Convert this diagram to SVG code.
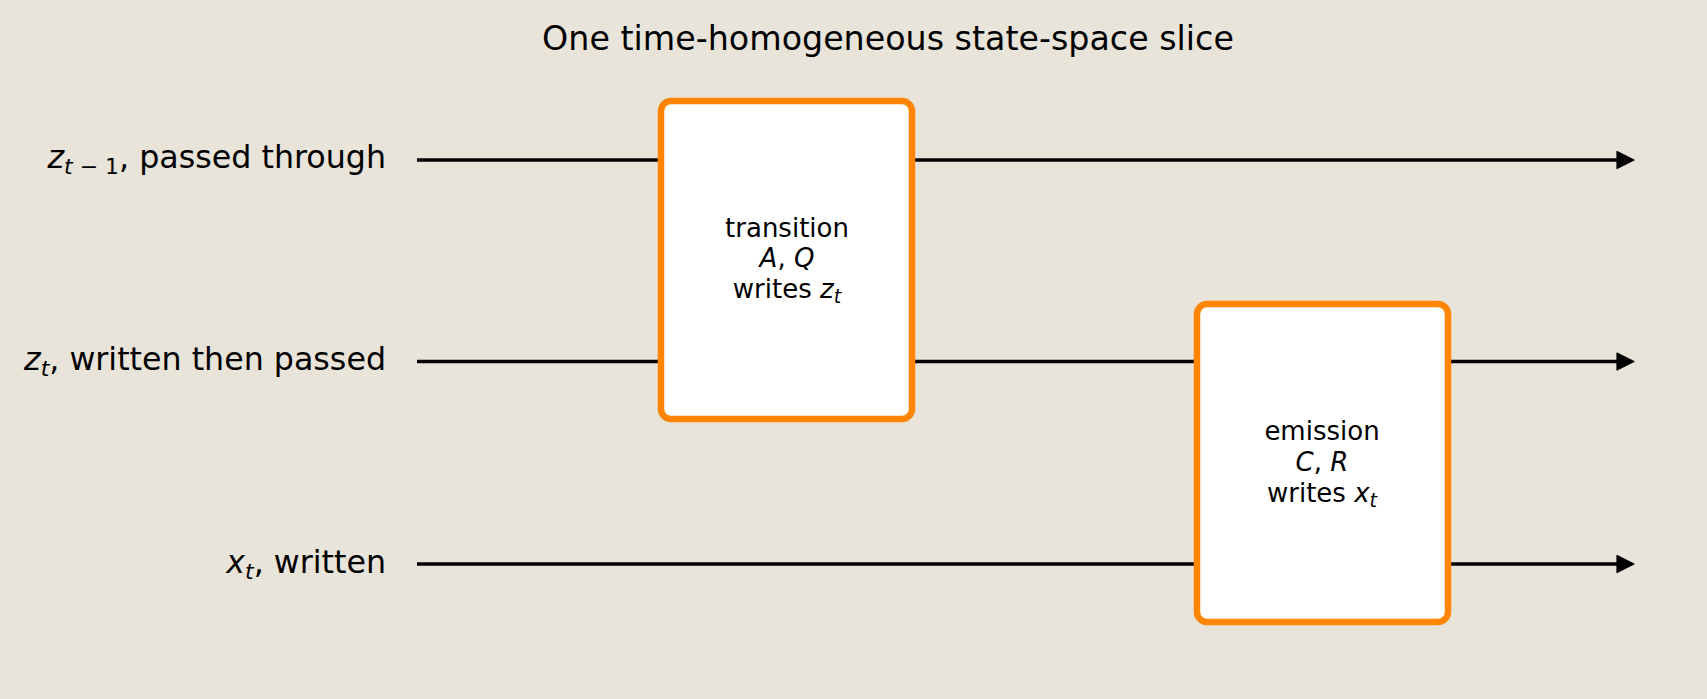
<svg xmlns="http://www.w3.org/2000/svg" width="1707" height="699" viewBox="0 0 1707 699">
  <style>
    text { font-family: "DejaVu Sans", "Liberation Sans", sans-serif; fill: #000; }
    .title { font-size: 33.3px; }
    .lbl { font-size: 31.7px; }
    .sub { font-size: 22px; }
    .bsub { font-size: 19px; }
    .box { font-size: 26px; }
    .it { font-style: italic; }
    .node rect { fill: #ffffff; stroke: #ff8503; stroke-width: 6.5; }
    .wire { stroke: #000; stroke-width: 3.4; fill: none; }
  </style>
  <defs>
    <marker id="arrow" viewBox="-1 -1 19 19" markerWidth="19" markerHeight="19" markerUnits="userSpaceOnUse" refX="4" refY="8.5" orient="auto">
      <path d="M0,0 L17,8.5 L0,17 Z" fill="#000" stroke="#000" stroke-width="1.2" stroke-linejoin="round"/>
    </marker>
  </defs>
  <rect x="0" y="0" width="1707" height="699" fill="#e8e4d9"/>
  <text class="title" x="888" y="50" text-anchor="middle">One time-homogeneous state-space slice</text>

  <g id="wire-labels">
    <text class="lbl" x="386" y="168" text-anchor="end"><tspan class="it">z</tspan><tspan class="it sub" dy="6">t</tspan><tspan class="sub"> − 1</tspan><tspan dy="-6">, passed through</tspan></text>
    <text class="lbl" x="386" y="370" text-anchor="end"><tspan class="it">z</tspan><tspan class="it sub" dy="6">t</tspan><tspan dy="-6">, written then passed</tspan></text>
    <text class="lbl" x="386" y="573" text-anchor="end"><tspan class="it">x</tspan><tspan class="it sub" dy="6">t</tspan><tspan dy="-6">, written</tspan></text>
  </g>

  <g id="connectors">
    <line class="wire" x1="417" y1="160" x2="1621" y2="160" marker-end="url(#arrow)"/>
    <line class="wire" x1="417" y1="361.5" x2="1621" y2="361.5" marker-end="url(#arrow)"/>
    <line class="wire" x1="417" y1="564" x2="1621" y2="564" marker-end="url(#arrow)"/>
  </g>

  <g id="transition" class="node">
    <rect x="661" y="101" width="251" height="318" rx="10" ry="10"/>
    <text class="box" x="787" y="237" text-anchor="middle">transition</text>
    <text class="box" x="787" y="267" text-anchor="middle"><tspan class="it">A</tspan>, <tspan class="it">Q</tspan></text>
    <text class="box" x="787" y="298" text-anchor="middle">writes <tspan class="it">z</tspan><tspan class="it bsub" dy="5">t</tspan></text>
  </g>

  <g id="emission" class="node">
    <rect x="1197" y="304" width="251" height="318" rx="10" ry="10"/>
    <text class="box" x="1322" y="440" text-anchor="middle">emission</text>
    <text class="box" x="1322" y="471" text-anchor="middle"><tspan class="it">C</tspan>, <tspan class="it">R</tspan></text>
    <text class="box" x="1322" y="502" text-anchor="middle">writes <tspan class="it">x</tspan><tspan class="it bsub" dy="5">t</tspan></text>
  </g>
</svg>
